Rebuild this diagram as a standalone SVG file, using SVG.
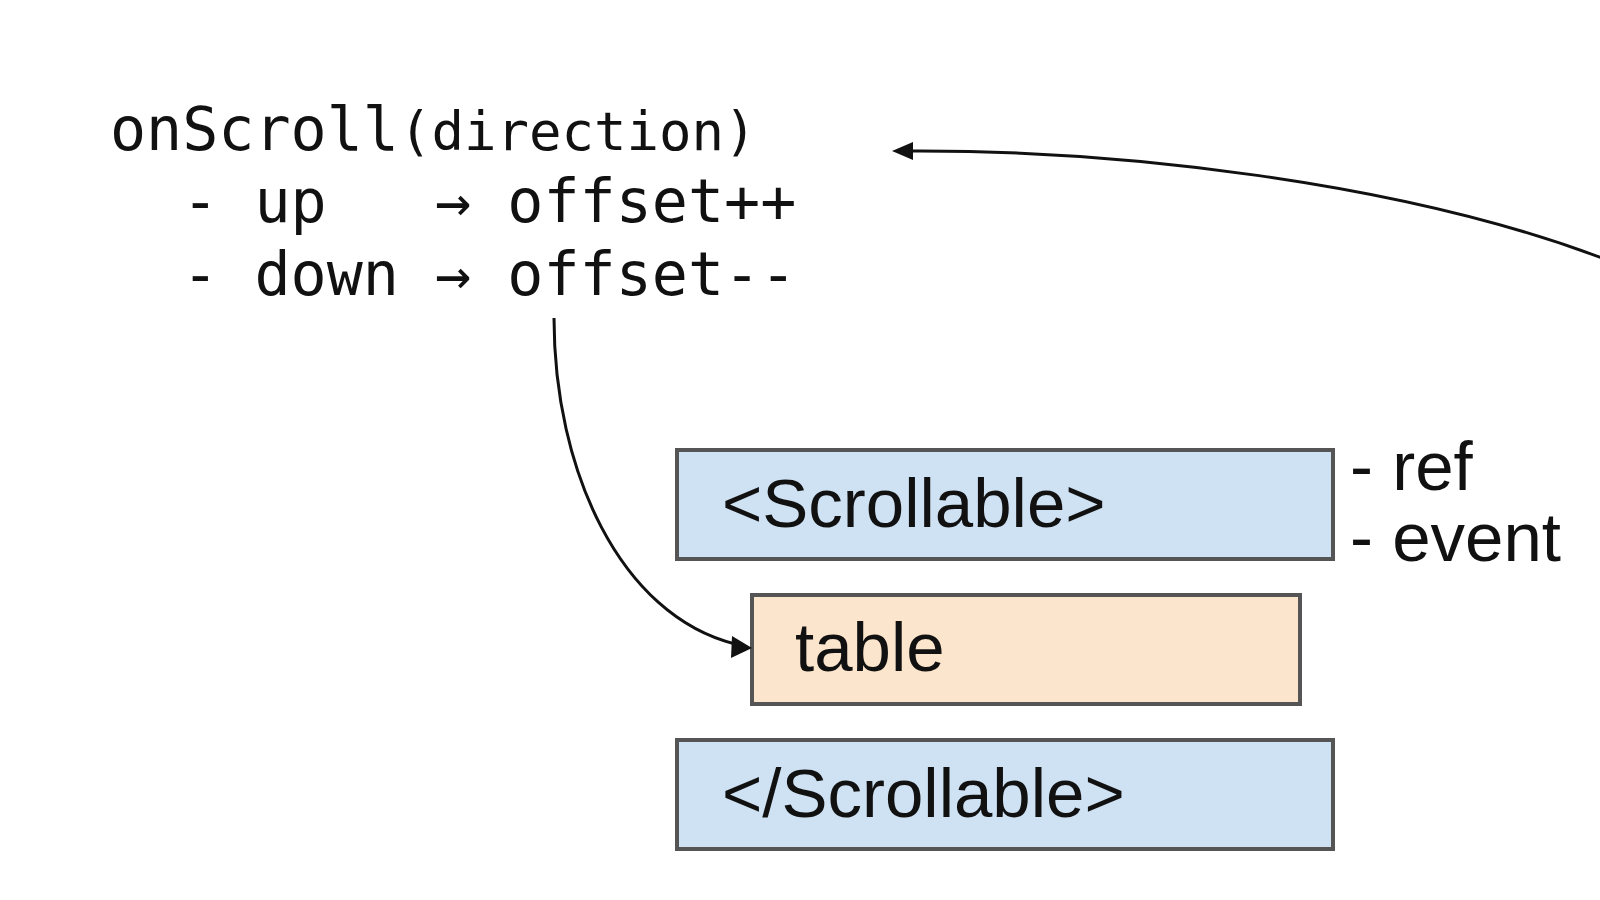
<svg xmlns="http://www.w3.org/2000/svg" width="1600" height="900" viewBox="0 0 1600 900">
<style>
.box{stroke:#555555;stroke-width:4}
.blue{fill:#cfe2f3}
.orange{fill:#fce5cd}
.lbl{font-family:"Liberation Sans",Arial,sans-serif;font-size:69px;fill:#111}
.side{font-family:"Liberation Sans",Arial,sans-serif;font-size:69px;fill:#111}
.mono{font-family:"DejaVu Sans Mono","Liberation Mono",monospace;font-size:60px;fill:#111}
.conn{fill:none;stroke:#111;stroke-width:3}
</style>
<rect width="1600" height="900" fill="#ffffff"/>
<g id="code">
<text class="mono" x="110" y="150" xml:space="preserve">onScroll<tspan font-size="54">(direction)</tspan></text>
<text class="mono" x="110" y="222" xml:space="preserve">  - up   → offset++</text>
<text class="mono" x="110" y="295" xml:space="preserve">  - down → offset--</text>
</g>
<g id="scrollable-open">
<rect class="box blue" x="677" y="450" width="656" height="109"/>
<text class="lbl" x="722" y="527">&lt;Scrollable&gt;</text>
</g>
<g id="side-notes">
<text class="side" x="1350" y="490">- ref</text>
<text class="side" x="1350" y="561">- event</text>
</g>
<g id="table">
<rect class="box orange" x="752" y="595" width="548" height="109"/>
<text class="lbl" x="795" y="671">table</text>
</g>
<g id="scrollable-close">
<rect class="box blue" x="677" y="740" width="656" height="109"/>
<text class="lbl" x="722" y="817">&lt;/Scrollable&gt;</text>
</g>
<g id="connectors">
<path class="conn" d="M554,318 C554,470 620,615 735,644"/>
<path d="M752,648 L732,636 L731,658 z" fill="#111"/>
<path class="conn" d="M1602,258 C1400,182 1120,150 910,151"/>
<path d="M892,151 L913,142 L913,160 z" fill="#111"/>
</g>
</svg>
